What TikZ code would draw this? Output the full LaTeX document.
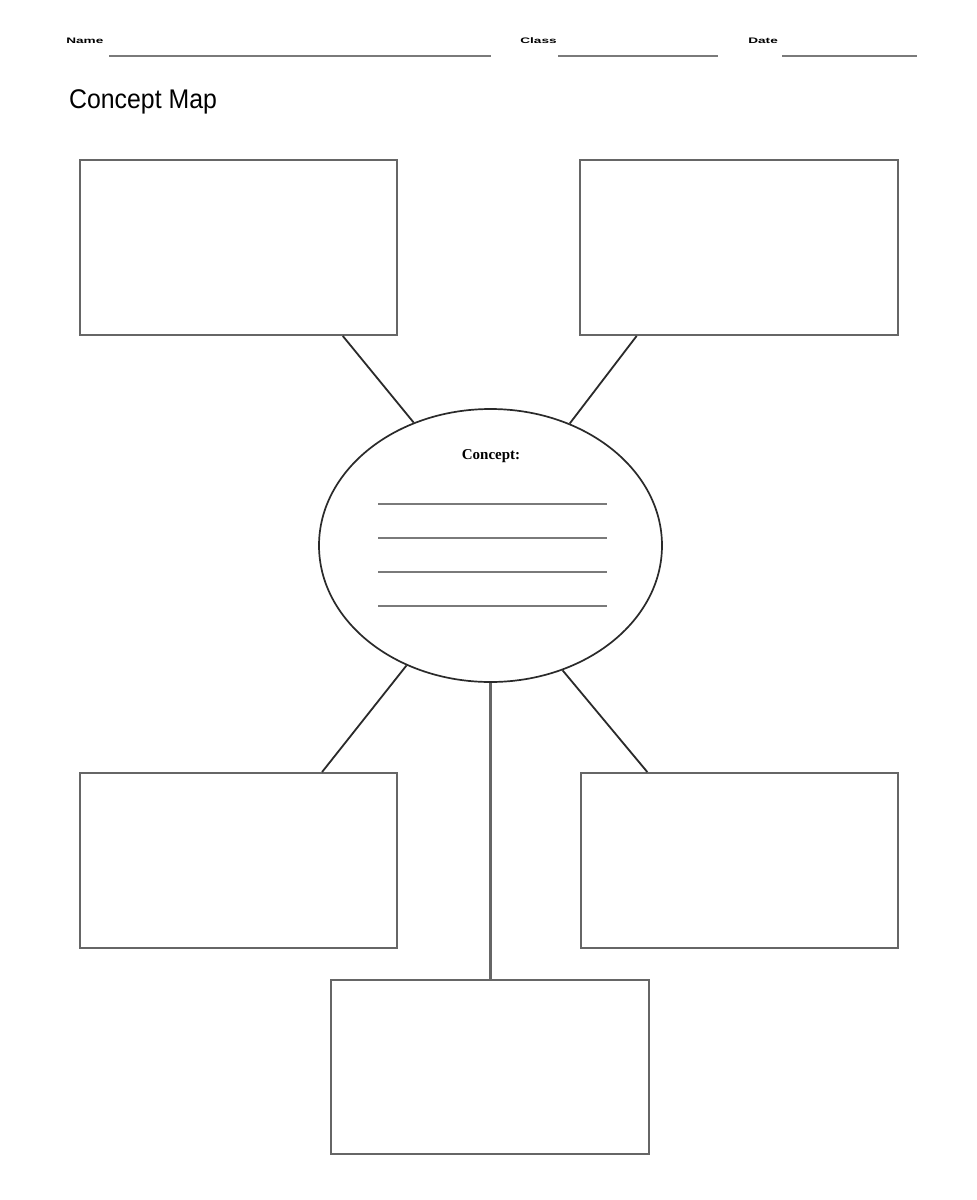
\documentclass[tikz,border=0pt]{standalone}
\usepackage{fontspec}
\setmainfont{Liberation Serif}
\setsansfont{Liberation Sans}
\usetikzlibrary{shapes.geometric,calc}
\definecolor{boxgray}{HTML}{666666}
\definecolor{linkgray}{HTML}{2A2A2A}
\definecolor{rulegray}{HTML}{7A7A7A}
\tikzset{
  mapbox/.style={draw=boxgray,line width=1.9pt,rectangle,inner sep=0pt,minimum width=317pt,minimum height=175pt},
  link/.style={draw=linkgray,line width=1.8pt},
  vlink/.style={draw=boxgray,line width=2.2pt},
  writeline/.style={draw=rulegray,line width=2.2pt},
  headrule/.style={draw=rulegray,line width=2pt},
  headlabel/.style={inner sep=0pt,anchor=base west,font=\sffamily\bfseries\fontsize{8}{8}\selectfont,xscale=1.7}
}
\begin{document}
\begin{tikzpicture}[x=1pt,y=-1pt]
\useasboundingbox[fill=white] (0,0) rectangle (977,1200);
% header
\node[headlabel] (name) at (66,43) {Name};
\coordinate (nameA) at (109,56); \coordinate (nameB) at (491,56);
\draw[headrule] (nameA) -- (nameB);
\node[headlabel] (class) at (520,43) {Class};
\coordinate (classA) at (558,56); \coordinate (classB) at (718,56);
\draw[headrule] (classA) -- (classB);
\node[headlabel] (date) at (748,43) {Date};
\coordinate (dateA) at (782,56); \coordinate (dateB) at (917,56);
\draw[headrule] (dateA) -- (dateB);
\node[inner sep=0pt,anchor=base west,font=\sffamily\fontsize{27}{27}\selectfont,xscale=0.92] (title) at (69,108) {Concept Map};
% boxes
\node[mapbox] (tl) at (238.5,247.5) {};
\node[mapbox,minimum width=318pt] (tr) at (739,247.5) {};
\node[mapbox] (bl) at (238.5,860.5) {};
\node[mapbox] (br) at (739.5,860.5) {};
\node[mapbox,minimum width=318pt,minimum height=174pt] (bc) at (490,1067) {};
% central ellipse
\node[ellipse,draw=linkgray,line width=1.7pt,minimum width=343pt,minimum height=273pt,inner sep=0pt] (c) at (490.5,545.5) {};
\node[font=\bfseries\fontsize{15}{15}\selectfont,inner sep=0pt,anchor=base] (ctext) at (491,459) {Concept:};
\foreach \yy/\nm in {504/a,538/b,572/c,606/d}{
  \coordinate (l\nm A) at (378,\yy); \coordinate (l\nm B) at (607,\yy);
  \draw[writeline] (l\nm A) -- (l\nm B);
}
% connectors
\draw[link] ($(tl.south west)!0.827!(tl.south east)$) -- (c.122.3);
\draw[link] ($(tr.south west)!0.18!(tr.south east)$) -- (c.57.7);
\draw[link] (c.235.9) -- ($(bl.north west)!0.762!(bl.north east)$);
\draw[link] (c.300.4) -- ($(br.north west)!0.211!(br.north east)$);
\draw[vlink] (c.270) -- (c.270 |- bc.north);
\end{tikzpicture}
\end{document}
